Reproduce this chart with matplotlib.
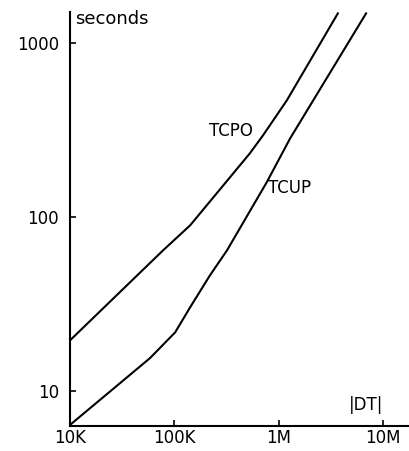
import matplotlib
matplotlib.use("Agg")
import matplotlib.pyplot as plt

# curves
tcpo_n = [1e4, 7.8e4, 1.42e5, 5.3e5, 7.1e5, 1.2e6, 3.7e6]
tcpo_t = [19.6, 64.5, 89.9, 233, 296, 470, 1486]

tcup_n = [1e4, 5.85e4, 1.02e5, 1.42e5, 2.2e5, 3.2e5, 7.7e5, 1.29e6, 6.9e6]
tcup_t = [6.4, 15.5, 21.8, 30.4, 46.4, 64.5, 159, 284, 1486]

xticks = [1e4, 1e5, 1e6, 1e7]
xlabels = ["10K", "100K", "1M", "10M"]
yticks = [10, 100, 1000]
ylabels = ["10", "100", "1000"]

plt.rcParams['font.family'] = ['DejaVu Sans']

fig = plt.figure(figsize=(4.1, 4.51), dpi=100)
ax = fig.add_axes([70 / 410, 25 / 451, 340 / 410, 414 / 451])

ax.plot(tcpo_n, tcpo_t, color='black', lw=1.5)
ax.plot(tcup_n, tcup_t, color='black', lw=1.5)

ax.set_xscale('log')
ax.set_yscale('log')
ax.set_xlim(1e4, 10 ** 7.26)
ax.set_ylim(10 ** 0.8, 10 ** 3.18)

ax.set_xticks(xticks)
ax.set_xticklabels(xlabels)
ax.set_yticks(yticks)
ax.set_yticklabels(ylabels)
ax.minorticks_off()
ax.tick_params(axis='x', direction='in', length=4, width=1.2, pad=2, labelsize=12)
ax.tick_params(axis='y', direction='in', length=4, width=1.2, pad=8, labelsize=12)

for s in ['top', 'right']:
    ax.spines[s].set_visible(False)
for s in ['left', 'bottom']:
    ax.spines[s].set_linewidth(1.5)

ax.text(5.7e5, 277, "TCPO", fontsize=12, ha='right', va='bottom')
ax.text(7.9e5, 130, "TCUP", fontsize=12, ha='left', va='bottom')
ax.text(0.015, 1.005, "seconds", transform=ax.transAxes, fontsize=13, ha='left', va='top')
ax.text(6.9e6, 8.3, "|DT|", fontsize=12, ha='center', va='center')

fig.savefig("out.png", dpi=100)
